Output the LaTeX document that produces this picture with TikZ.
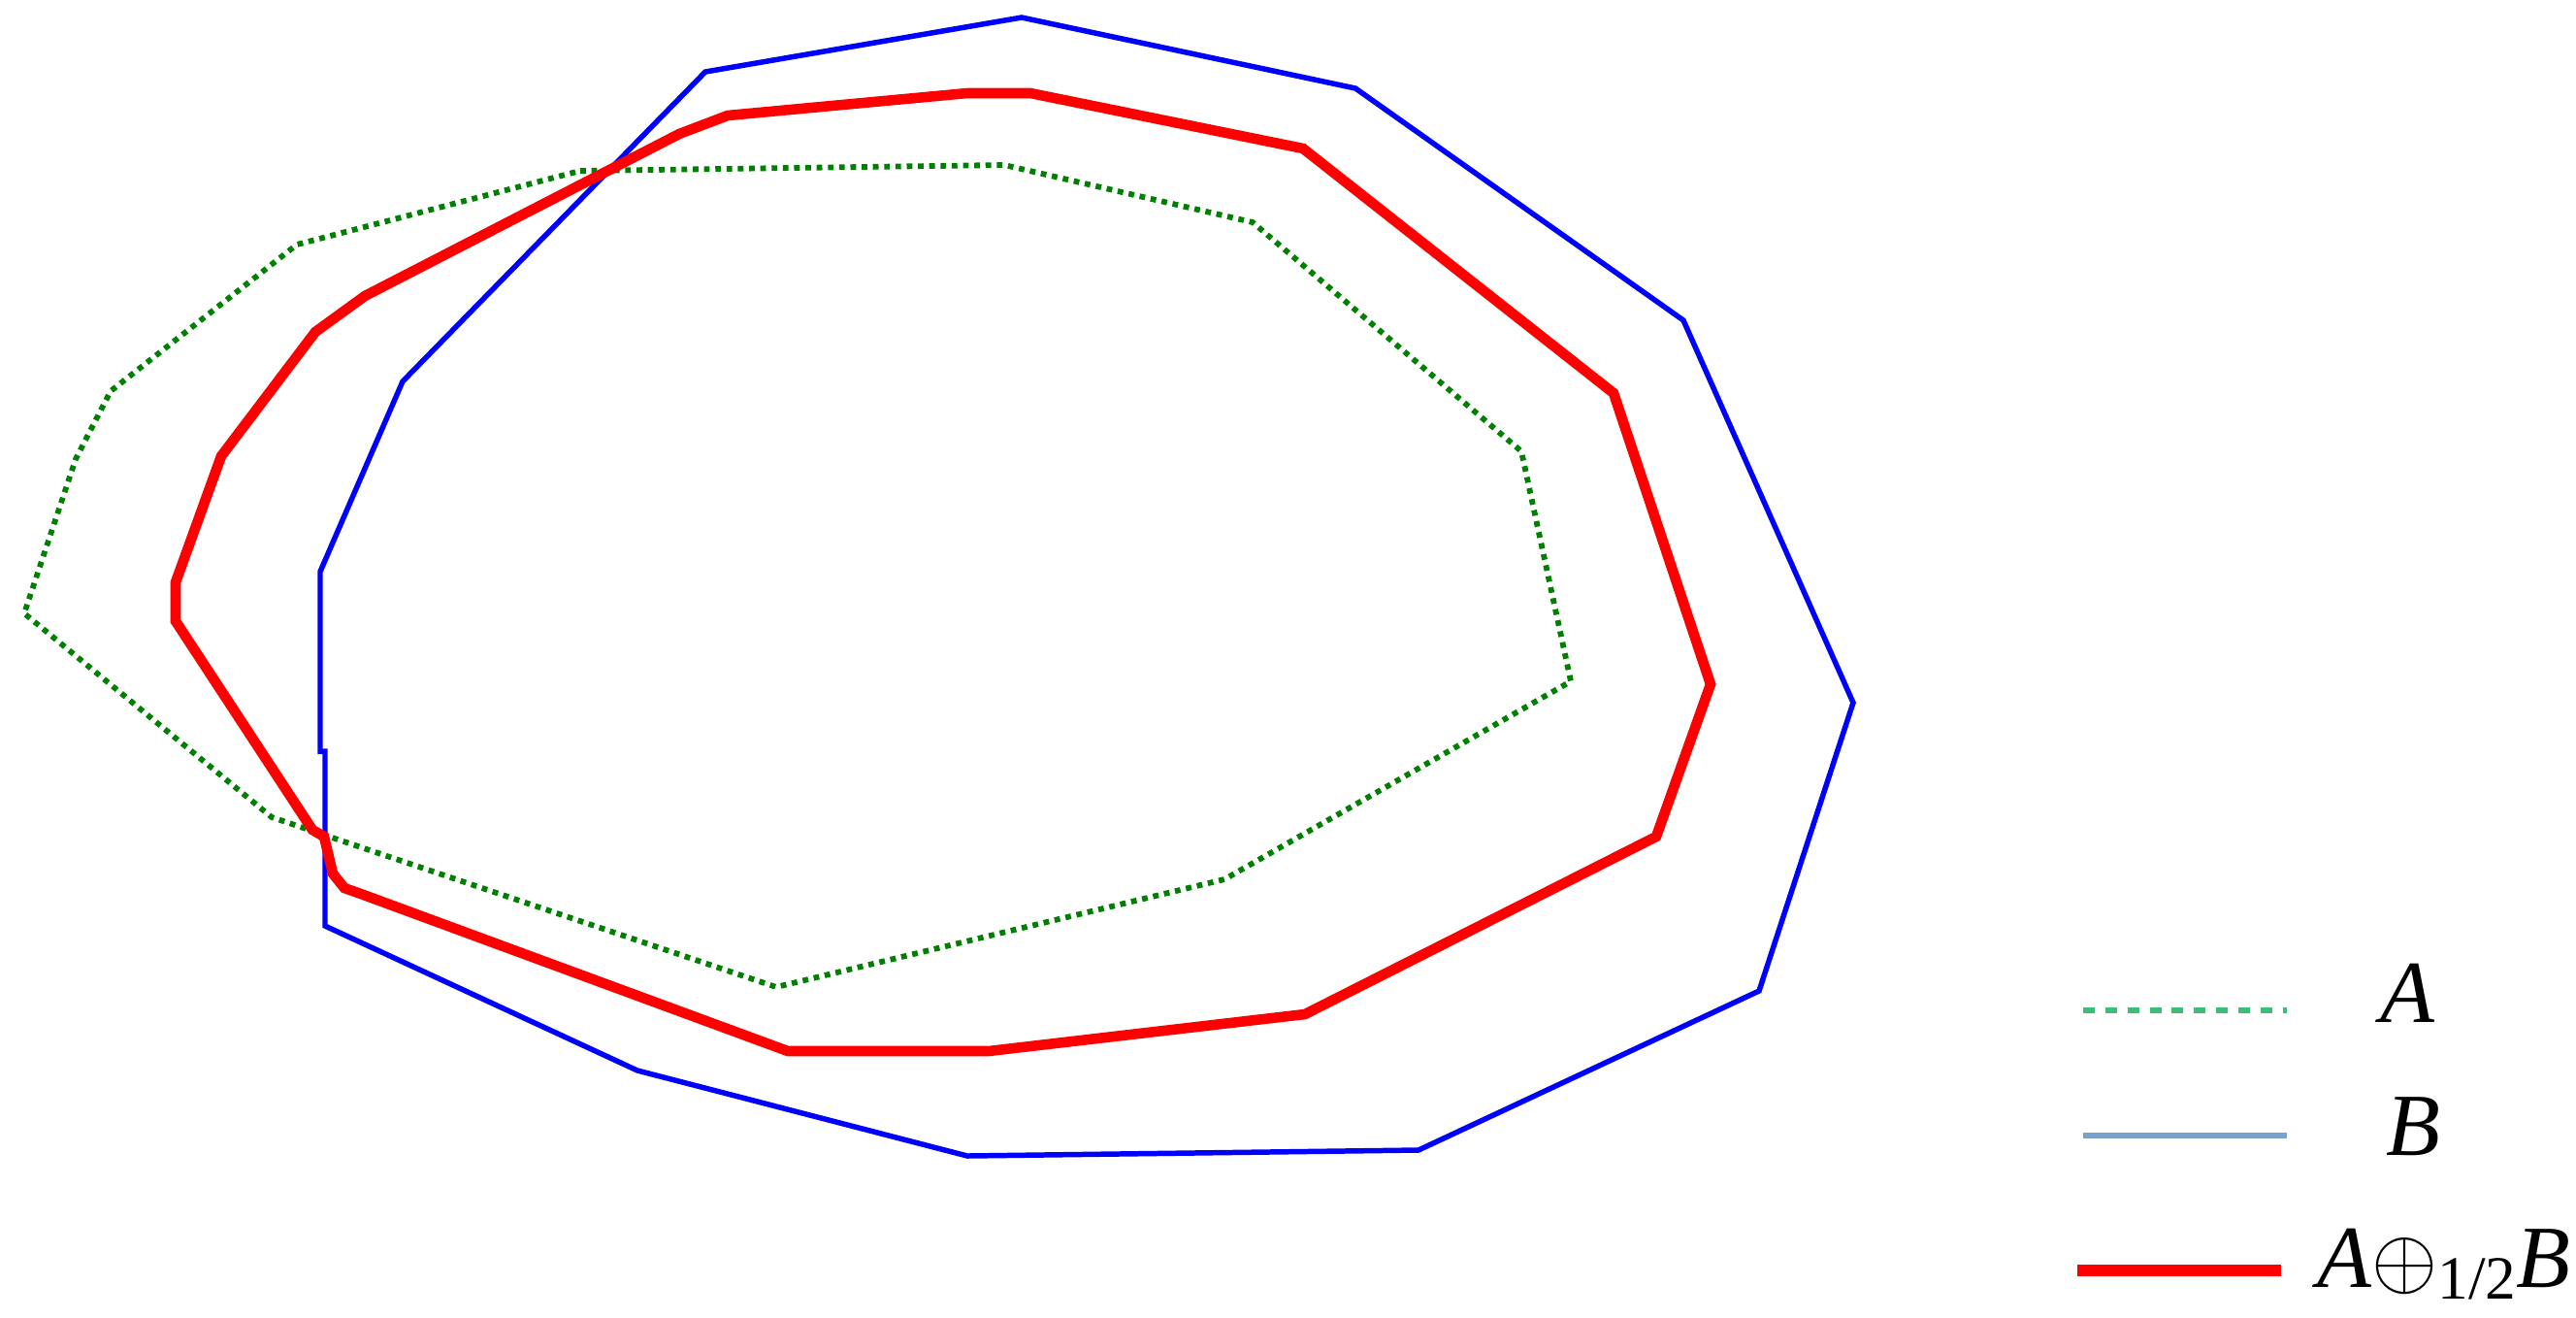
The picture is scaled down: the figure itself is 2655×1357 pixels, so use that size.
\documentclass[tikz,border=0pt]{standalone}
\usepackage{fontspec}
\setmainfont{Liberation Serif}
\definecolor{Bblue}{RGB}{0,0,255}
\definecolor{Rred}{RGB}{255,0,0}
\definecolor{Ggreen}{RGB}{0,128,0}
\definecolor{LegGreen}{RGB}{60,190,120}
\definecolor{LegBlue}{RGB}{122,160,204}
\begin{document}
\begin{tikzpicture}[x=0.01cm,y=-0.01cm,
  setA/.style={draw=Ggreen, line width=1.65pt, dash pattern=on 1.65pt off 1.65pt, line join=miter},
  setB/.style={draw=Bblue, line width=1.56pt, line join=miter},
  setC/.style={draw=Rred, line width=3pt, line join=miter},
  legA/.style={draw=LegGreen, line width=1.8pt, dash pattern=on 3.4pt off 3.1pt},
  legB/.style={draw=LegBlue, line width=1.8pt},
  legC/.style={draw=Rred, line width=3.6pt},
  lab/.style={inner sep=0pt, anchor=base, font=\fontsize{26}{30}\selectfont}
]
\useasboundingbox (0,0) rectangle (2655,1357);
\fill[white] (0,0) rectangle (2655,1357);

% set A (green dotted)
\draw[setA] (598,176) -- (1035,170) -- (1291,229) -- (1568,465) -- (1619,702)
  -- (1262,906) -- (800,1017) -- (280,842) -- (25,632) -- (78,473) -- (114,403)
  -- (306,252) -- cycle;

% set B (blue)
\draw[setB] (1053,18) -- (1397,91) -- (1735,330) -- (1910,724) -- (1813,1021)
  -- (1462,1185) -- (997,1191) -- (657,1103) -- (335,954) -- (335,774)
  -- (330,774) -- (330,589) -- (415,393) -- (727,74) -- cycle;

% A (+)_{1/2} B (red)
\draw[setC] (1062,96) -- (1343,153) -- (1663,405) -- (1763,705) -- (1707,862)
  -- (1345,1045) -- (1019,1083) -- (812,1083) -- (372,921) -- (355,915)
  -- (343,900) -- (334,862) -- (322,855) -- (181,640) -- (181,600) -- (228,470)
  -- (325,342) -- (376,305) -- (700,138) -- (750,119) -- (997,96) -- cycle;

% legend
\coordinate (la1) at (2147,1041); \coordinate (la2) at (2357,1041);
\coordinate (lb1) at (2147,1170); \coordinate (lb2) at (2357,1170);
\coordinate (lc1) at (2141,1309); \coordinate (lc2) at (2351,1309);
\draw[legA] (la1) -- (la2);
\draw[legB] (lb1) -- (lb2);
\draw[legC] (lc1) -- (lc2);
\node[lab] (tA) at (2482,1053) {\textit{A}};
\node[lab] (tB) at (2487,1190) {\textit{B}};
\node[lab, anchor=base east] (tC) at (2650,1326)
  {\textit{A}$\oplus$\raisebox{-3.5pt}{\fontsize{18}{20}\selectfont 1/2}\textit{B}};
\end{tikzpicture}
\end{document}
